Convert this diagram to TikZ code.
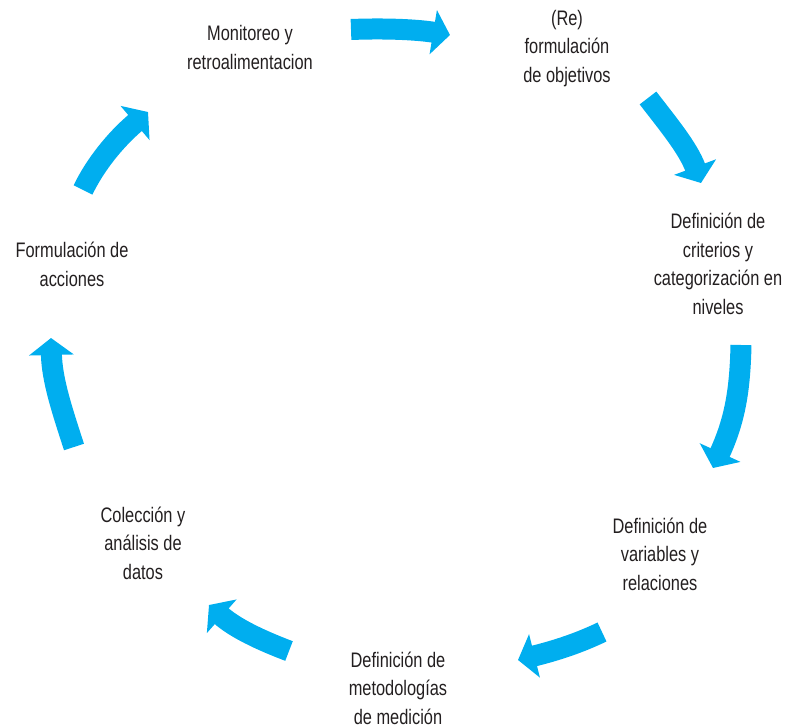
\documentclass[tikz,border=0pt]{standalone}
\usepackage{fontspec}
\setmainfont{Liberation Sans}[FakeStretch=0.78]
\usetikzlibrary{arrows.meta}
\definecolor{flowcyan}{RGB}{0,174,239}
\definecolor{inkgray}{RGB}{35,31,32}
\begin{document}
\begin{tikzpicture}[x=1pt,y=-1pt,
  stage/.style={align=center,inner sep=0pt,text=inkgray,
    font=\fontsize{21}{28.5}\selectfont},
  flow/.style={draw=flowcyan,line width=21pt,
    -{Triangle[length=17pt,width=44pt,fill=flowcyan]}}]
\useasboundingbox (0,0) rectangle (793,727);

% stages of the cycle
\node[stage] (mon) at (250,47.5) {Monitoreo y\\retroalimentacion};
\node[stage] (obj) at (567,48.5) {(Re)\\formulación\\de objetivos};
\node[stage] (cri) at (718,264) {Definición de\\criterios y\\categorización en\\niveles};
\node[stage] (var) at (660,554) {Definición de\\variables y\\relaciones};
\node[stage] (met) at (398,688) {Definición de\\metodologías\\de medición};
\node[stage] (col) at (143,543) {Colección y\\análisis de\\datos};
\node[stage] (acc) at (72,264.5) {Formulación de\\acciones};

% arrow ends between the stages
\coordinate (a1s) at (351,29.5);  \coordinate (a1e) at (450,35);
\coordinate (a2s) at (648,98);    \coordinate (a2e) at (701,183);
\coordinate (a3s) at (741,345);   \coordinate (a3e) at (713,468);
\coordinate (a4s) at (602,632);   \coordinate (a4e) at (518,660);
\coordinate (a5s) at (289,651);   \coordinate (a5e) at (209,605);
\coordinate (a6s) at (74,447);    \coordinate (a6e) at (51,338);
\coordinate (a7s) at (83,190);    \coordinate (a7e) at (148,112);

\draw[flow] (a1s) .. controls (390,28) and (420,30) .. (a1e);
\draw[flow] (a2s) .. controls (668,124) and (688,148) .. (a2e);
\draw[flow] (a3s) .. controls (740,390) and (735,420) .. (a3e);
\draw[flow] (a4s) .. controls (575,645) and (550,652) .. (a4e);
\draw[flow] (a5s) .. controls (260,640) and (235,628) .. (a5e);
\draw[flow] (a6s) .. controls (62,410) and (52,380) .. (a6e);
\draw[flow] (a7s) .. controls (95,165) and (115,140) .. (a7e);
\end{tikzpicture}
\end{document}
